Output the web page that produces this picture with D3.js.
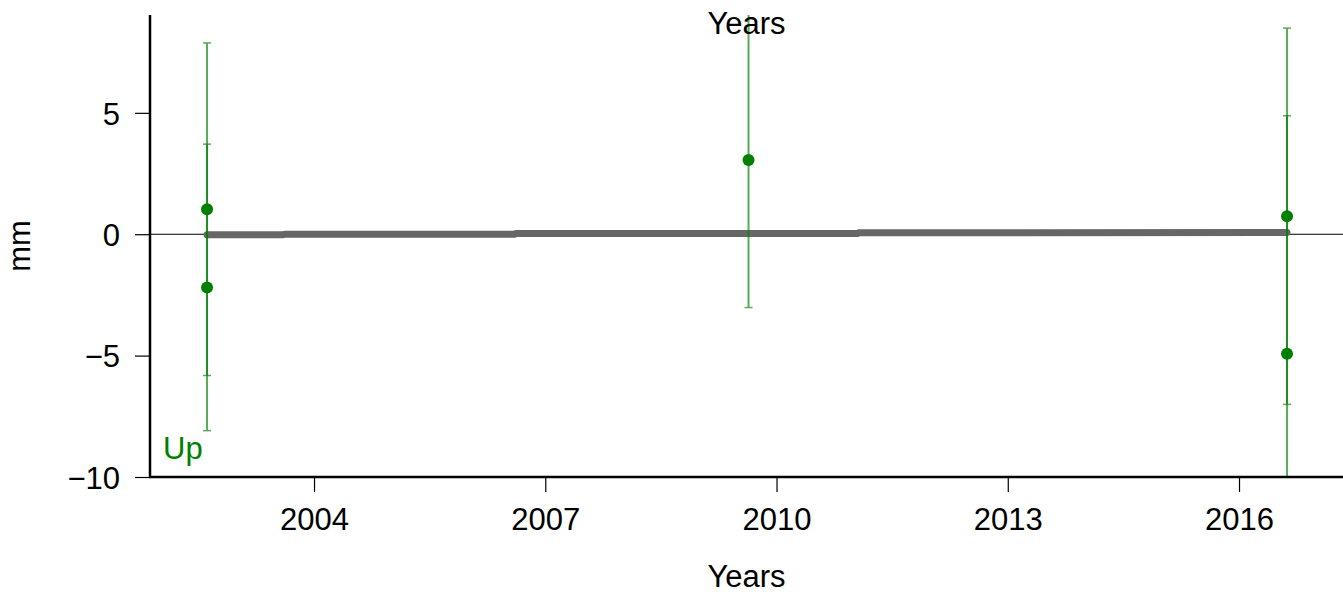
<!DOCTYPE html>
<html>
<head>
<meta charset="utf-8">
<script src="https://cdn.jsdelivr.net/npm/d3@7"></script>
<style>
  html, body { margin: 0; padding: 0; background: #fff; }
  svg { display: block; font-family: "Liberation Sans", Arial, sans-serif; }
</style>
</head>
<body>
<svg id="chart" width="1343" height="595"></svg>
<script>
// ---- data ----
const obsDates  = [2002.612, 2002.612, 2009.637, 2016.623, 2016.623];
const obsValues = [1.03, -2.19, 3.06, 0.74, -4.92];
const obsErrors = [6.85, 5.9, 6.08, 7.75, 9.8];

const modelDates  = [2002.612, 2003.6, 2003.62, 2006.6, 2006.62, 2011.05, 2011.07, 2016.623];
const modelValues = [-0.02, -0.02, 0.0, 0.0, 0.03, 0.03, 0.06, 0.07];

const xTicks = [2004, 2007, 2010, 2013, 2016];
const yTicks = [-10, -5, 0, 5];
const componentLabel = "Up";
const xTitle = "Years";
const yTitle = "mm";

// ---- layout ----
const svg = d3.select("#chart");
const pLeft = 150, pRight = 1343, pTop = 15, pBottom = 477;
const x = d3.scaleLinear().domain([2001.872, 2017.349]).range([pLeft, pRight]);
const y = d3.scaleLinear().domain([-10, 9.03]).range([pBottom, pTop]);
const fontSize = 31;

svg.append("defs").append("clipPath").attr("id", "plotclip")
  .append("rect").attr("x", pLeft).attr("y", pTop).attr("width", pRight - pLeft).attr("height", pBottom - pTop);

const plot = svg.append("g").attr("clip-path", "url(#plotclip)");

// zero line
plot.append("line")
  .attr("x1", pLeft).attr("x2", pRight)
  .attr("y1", y(0)).attr("y2", y(0))
  .attr("stroke", "#000").attr("stroke-width", 1.2);

// model line (gray)
plot.append("path")
  .datum(modelDates.map((d, i) => [d, modelValues[i]]))
  .attr("d", d3.line().x(d => x(d[0])).y(d => y(d[1])))
  .attr("fill", "none").attr("stroke", "#666666")
  .attr("stroke-width", 7).attr("stroke-linecap", "round").attr("stroke-linejoin", "round");

// error bars
const green = "#008000";
const eb = plot.selectAll("g.eb").data(obsDates.map((d, i) => ({d, v: obsValues[i], e: obsErrors[i]})))
  .enter().append("g").attr("class", "eb").attr("opacity", 0.65);
eb.append("line")
  .attr("x1", d => x(d.d)).attr("x2", d => x(d.d))
  .attr("y1", d => y(d.v + d.e)).attr("y2", d => y(d.v - d.e))
  .attr("stroke", green).attr("stroke-width", 2);
eb.append("line")
  .attr("x1", d => x(d.d) - 4).attr("x2", d => x(d.d) + 4)
  .attr("y1", d => y(d.v + d.e)).attr("y2", d => y(d.v + d.e))
  .attr("stroke", green).attr("stroke-width", 1.5);
eb.append("line")
  .attr("x1", d => x(d.d) - 4).attr("x2", d => x(d.d) + 4)
  .attr("y1", d => y(d.v - d.e)).attr("y2", d => y(d.v - d.e))
  .attr("stroke", green).attr("stroke-width", 1.5);

// points
plot.selectAll("circle.pt").data(obsDates.map((d, i) => [d, obsValues[i]]))
  .enter().append("circle").attr("class", "pt")
  .attr("cx", d => x(d[0])).attr("cy", d => y(d[1])).attr("r", 6)
  .attr("fill", green);

// axes
const xAxis = svg.append("g").attr("transform", `translate(0,${pBottom})`)
  .call(d3.axisBottom(x).tickValues(xTicks).tickFormat(d3.format("d")).tickSize(15).tickPadding(16));
const yAxis = svg.append("g").attr("transform", `translate(${pLeft},0)`)
  .call(d3.axisLeft(y).tickValues(yTicks).tickFormat(d => d < 0 ? "\u2212" + Math.abs(d) : d).tickSize(15).tickPadding(15));
[xAxis, yAxis].forEach(a => {
  a.select(".domain").remove();
  a.selectAll(".tick line").attr("stroke", "#000").attr("stroke-width", 1.2);
  a.selectAll(".tick text").attr("font-size", fontSize).attr("fill", "#000")
    .attr("font-family", "Liberation Sans, Arial, sans-serif");
});
yAxis.selectAll(".tick text").attr("dy", "0.36em");

svg.append("line").attr("x1", pLeft).attr("x2", pLeft).attr("y1", pTop).attr("y2", pBottom + 1)
  .attr("stroke", "#000").attr("stroke-width", 2.5);
svg.append("line").attr("x1", pLeft - 1).attr("x2", pRight).attr("y1", pBottom).attr("y2", pBottom)
  .attr("stroke", "#000").attr("stroke-width", 2.5);

// texts
svg.append("text").attr("x", (pLeft + pRight) / 2).attr("y", 34)
  .attr("text-anchor", "middle").attr("font-size", fontSize).text(xTitle);
svg.append("text").attr("x", (pLeft + pRight) / 2).attr("y", 587)
  .attr("text-anchor", "middle").attr("font-size", fontSize).text(xTitle);
svg.append("text").attr("transform", `translate(30,${(pTop + pBottom) / 2}) rotate(-90)`)
  .attr("text-anchor", "middle").attr("font-size", fontSize).text(yTitle);
svg.append("text").attr("x", 163).attr("y", 459)
  .attr("font-size", fontSize).attr("fill", green).text(componentLabel);
</script>
</body>
</html>
